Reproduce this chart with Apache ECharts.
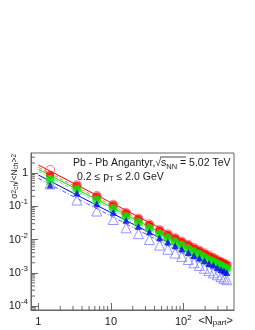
<!DOCTYPE html>
<html><head><meta charset="utf-8">
<script src="https://cdn.jsdelivr.net/npm/echarts@6/dist/echarts.min.js"></script>
<style>html,body{margin:0;padding:0;background:#fff}#c{width:255px;height:330px}</style>
</head><body><div id="c"></div>
<script>
// ---- data ----
const npart = [1.45, 3.4, 6.4, 10.8, 16.2, 24, 34, 47, 61, 77, 95, 117, 140, 166, 195, 226, 259, 295, 331, 364, 398];
const redFilled = [0.87, 0.42, 0.20, 0.11, 0.063, 0.042, 0.028, 0.019, 0.0142, 0.0109, 0.0086, 0.0068, 0.0055, 0.0046, 0.0038, 0.0032, 0.0028, 0.0024, 0.0021, 0.0019, 0.0017];
const redOpen = [1.25, 0.43, 0.205, 0.112, 0.064, 0.043, 0.0285, 0.0193, 0.0144, 0.011, 0.0087, 0.0069, 0.0056, 0.0047, 0.0039, 0.0033, 0.0028, 0.0024, 0.0021, 0.0019, 0.0017];
const greenFilled = [0.65, 0.33, 0.156, 0.086, 0.049, 0.033, 0.022, 0.0149, 0.0111, 0.0085, 0.0067, 0.0053, 0.0043, 0.0036, 0.0030, 0.0025, 0.0022, 0.0019, 0.00165, 0.0015, 0.00135];
const greenOpen = [0.6, 0.3, 0.14, 0.078, 0.045, 0.030, 0.020, 0.0135, 0.0101, 0.0077, 0.0061, 0.0048, 0.0039, 0.0033, 0.0027, 0.0023, 0.0020, 0.0017, 0.0015, 0.00135, 0.0012];
const blueFilled = [0.44, 0.25, 0.12, 0.066, 0.038, 0.025, 0.017, 0.0114, 0.0085, 0.0065, 0.0052, 0.0041, 0.0033, 0.0028, 0.0023, 0.0019, 0.0017, 0.00145, 0.00126, 0.00114, 0.00102];
const blueOpen = [0.47, 0.154, 0.072, 0.040, 0.0225, 0.015, 0.010, 0.0068, 0.0051, 0.0039, 0.0031, 0.0025, 0.0020, 0.00166, 0.00137, 0.00116, 0.00100, 0.00087, 0.00076, 0.00068, 0.00062];
// power-law fit lines (end points)
const fitX = [1, 400];
const fitRedA = [1.74, 0.0020];
const fitRedB = [1.48, 0.0017];
const fitGreenA = [1.29, 0.00148];
const fitGreenB = [1.12, 0.00129];
const fitBlueA = [0.87, 0.0010];
const fitBlueB = [0.69, 0.00079];
// axis ranges / ticks
const xRange = [0.79, 500];
const yRange = [7.6e-5, 4.0];
const decadesX = [-1, 0, 1, 2];
const decadesY = [-5, -4, -3, -2, -1, 0];

const FONT = '"Liberation Sans", Arial, Helvetica, sans-serif';
const INK = '#1a1a1a';
const FRAME = '#666';

function minorValues(decs, range) {
  const out = [];
  decs.forEach(d => { for (let k = 2; k <= 9; k++) { const v = k * Math.pow(10, d); if (v > range[0] && v < range[1]) out.push(v); } });
  return out;
}
function powLabel(v) {
  const l = Math.log10(v), e = Math.round(l);
  if (Math.abs(l - e) > 1e-6) return '';
  if (e === 0) return '1';
  if (e === 1) return '10';
  return '10{sup|' + e + '}';
}
const richLab = {
  sup: { fontSize: 8, lineHeight: 8, verticalAlign: 'top', fontFamily: FONT, color: INK }
};

function zip(xs, ys) { return xs.map((x, i) => [x, ys[i]]); }
function fitLine(ys, color, type) {
  return { type: 'line', data: zip(fitX, ys), showSymbol: false, symbol: 'none', silent: true, z: 2,
    lineStyle: { color: color, width: 1, type: type }, animation: false };
}
function scatter(ys, symbol, size, style, z) {
  return { type: 'scatter', data: zip(npart, ys), symbol: symbol, symbolSize: size, itemStyle: style, z: z, animation: false };
}
function minorTicks(dim, values) {
  return {
    type: 'custom', silent: true, z: 6, clip: false, animation: false,
    data: values.map(v => dim === 'y' ? [1, v] : [v, 1]),
    renderItem: function (params, api) {
      const cs = params.coordSys;
      const p = api.coord([api.value(0), api.value(1)]);
      if (dim === 'y') {
        return { type: 'line', shape: { x1: cs.x, y1: p[1], x2: cs.x + 4, y2: p[1] }, style: { stroke: FRAME, lineWidth: 1 } };
      }
      const yb = cs.y + cs.height;
      return { type: 'line', shape: { x1: p[0], y1: yb, x2: p[0], y2: yb - 4 }, style: { stroke: FRAME, lineWidth: 1 } };
    }
  };
}

const chart = echarts.init(document.getElementById('c'), null, { renderer: 'canvas' });
chart.setOption({
  backgroundColor: '#fff',
  animation: false,
  grid: { left: 31, top: 153, width: 203, height: 157, show: true, borderColor: FRAME, borderWidth: 1, backgroundColor: 'transparent' },
  xAxis: {
    type: 'log', min: xRange[0], max: xRange[1], logBase: 10,
    axisLine: { show: true, lineStyle: { color: FRAME, width: 1 } },
    axisTick: { show: true, inside: true, length: 7, lineStyle: { color: FRAME } },
    splitLine: { show: false },
    axisLabel: { show: true, showMinLabel: false, showMaxLabel: false, margin: 4, color: INK, fontSize: 11, fontFamily: FONT, lineHeight: 16,
      formatter: powLabel, rich: richLab }
  },
  yAxis: {
    type: 'log', min: yRange[0], max: yRange[1], logBase: 10,
    axisLine: { show: true, lineStyle: { color: FRAME, width: 1 } },
    axisTick: { show: true, inside: true, length: 7, lineStyle: { color: FRAME } },
    splitLine: { show: false },
    axisLabel: { show: true, showMinLabel: false, showMaxLabel: false, margin: 3, color: INK, fontSize: 11, fontFamily: FONT, lineHeight: 16,
      formatter: powLabel, rich: richLab }
  },
  series: [
    fitLine(fitRedA, '#ff0000', 'solid'),
    fitLine(fitRedB, '#ff6a6a', [4, 2]),
    fitLine(fitGreenA, '#00dd00', 'solid'),
    fitLine(fitGreenB, '#77ee77', [4, 2]),
    fitLine(fitBlueA, '#0000ff', 'solid'),
    fitLine(fitBlueB, '#5555ff', [4, 2, 1, 2]),
    scatter(blueOpen, 'triangle', 10, { color: 'transparent', borderColor: '#7b7bff', borderWidth: 1 }, 3),
    scatter(greenOpen, 'rect', 8, { color: 'transparent', borderColor: '#66ee66', borderWidth: 1 }, 3),
    scatter(redOpen, 'circle', 9, { color: 'transparent', borderColor: '#ff5555', borderWidth: 1 }, 3),
    scatter(redFilled, 'circle', 8, { color: '#ff0000' }, 4),
    scatter(greenFilled, 'circle', 8.5, { color: '#00ee00' }, 5),
    scatter(blueFilled, 'triangle', 7, { color: '#0000ee' }, 6),
    minorTicks('y', minorValues(decadesY, yRange)),
    minorTicks('x', minorValues(decadesX, xRange))
  ],
  graphic: [
    { type: 'text', x: 73, y: 163, z: 20, silent: true,
      style: { text: 'Pb - Pb Angantyr,\u221A{s|s}{sub|NN} = 5.02 TeV', fill: INK, font: '10.5px ' + FONT, textVerticalAlign: 'middle', textAlign: 'left',
        rich: { s: { fontSize: 10.5, fontFamily: FONT, lineHeight: 16 }, sub: { fontSize: 7.5, fontFamily: FONT, lineHeight: 8, verticalAlign: 'bottom' } } } },
    { type: 'line', z: 20, silent: true, shape: { x1: 160, y1: 157, x2: 186, y2: 157 }, style: { stroke: INK, lineWidth: 0.8 } },
    { type: 'text', x: 77, y: 177, z: 20, silent: true,
      style: { text: '0.2 \u2264 p{sub|T} \u2264 2.0 GeV', fill: INK, font: '10.5px ' + FONT, textVerticalAlign: 'middle', textAlign: 'left',
        rich: { sub: { fontSize: 7.5, fontFamily: FONT, lineHeight: 8, verticalAlign: 'bottom' } } } },
    { type: 'text', x: 233, y: 321, z: 20, silent: true,
      style: { text: '<N{sub|part}>', fill: INK, font: '11px ' + FONT, textVerticalAlign: 'middle', textAlign: 'right',
        rich: { sub: { fontSize: 8, fontFamily: FONT, lineHeight: 8, verticalAlign: 'bottom' } } } },
    { type: 'text', x: 15, y: 154, rotation: Math.PI / 2, z: 20, silent: true,
      style: { text: '\u03C3{sup|2}{sub|ch}/<N{sub|ch}>{sup|2}', fill: INK, font: '8.5px ' + FONT, textVerticalAlign: 'middle', textAlign: 'right',
        rich: { sup: { fontSize: 6.5, fontFamily: FONT, lineHeight: 6, verticalAlign: 'top' }, sub: { fontSize: 6.5, fontFamily: FONT, lineHeight: 6, verticalAlign: 'bottom' } } } }
  ]
});
</script></body></html>
